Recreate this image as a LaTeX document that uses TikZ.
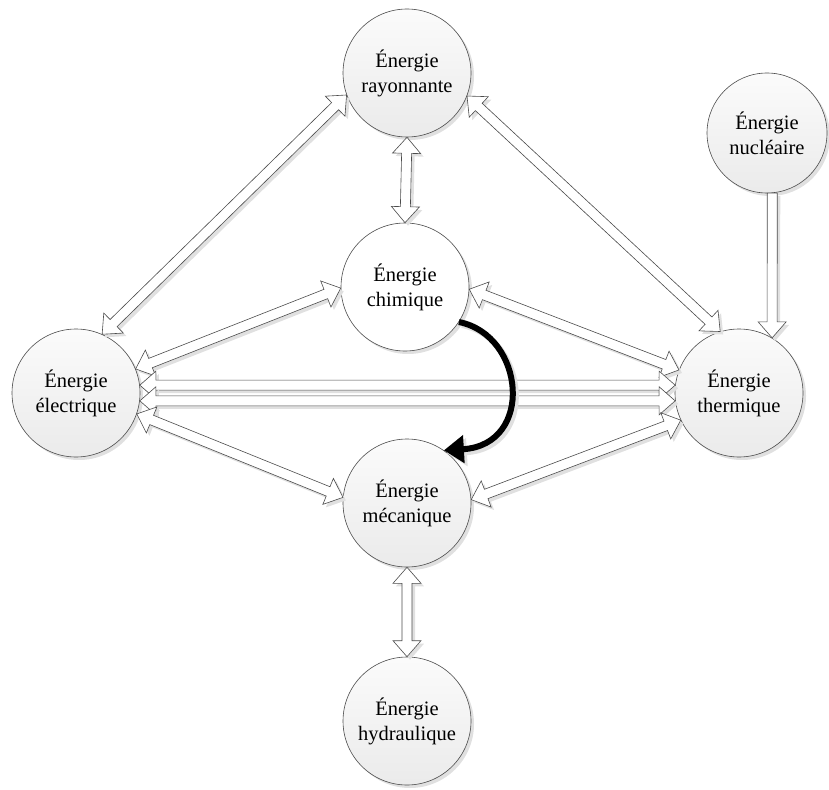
\documentclass[tikz,border=0pt]{standalone}
\usepackage{fontspec}
\setmainfont{Liberation Serif}
\usetikzlibrary{calc,shadows,arrows.meta}
\tikzset{
  enode/.style={circle, minimum size=128pt, inner sep=0pt, align=center,
    draw=black!70, line width=0.6pt, top color=gray!3, bottom color=gray!16,
    font=\fontsize{20.5pt}{25pt}\selectfont,
    drop shadow={shadow xshift=3pt, shadow yshift=-3pt, fill=black!12, opacity=1}},
  wnode/.style={enode, top color=white, bottom color=white},
  barrow/.style={draw=black!70, fill=white, line width=0.6pt, line join=miter,
    drop shadow={shadow xshift=3pt, shadow yshift=-3pt, fill=black!12, opacity=1}},
  curvearrow/.style={line width=6pt, -{Triangle[length=20pt,width=27pt]}},
}
\def\hlen{16pt}
\def\hwid{14pt}
\def\swid{5pt}
\newcommand\dblarrow[2]{%
  \path (#1) coordinate (P) (#2) coordinate (Q);
  \path ($(P)!\hlen!(Q)$) coordinate (P1) ($(Q)!\hlen!(P)$) coordinate (Q1);
  \draw[barrow] (P) -- ($(P1)!\hwid!90:(Q)$) -- ($(P1)!\swid!90:(Q)$)
    -- ($(Q1)!\swid!-90:(P)$) -- ($(Q1)!\hwid!-90:(P)$) -- (Q)
    -- ($(Q1)!\hwid!90:(P)$) -- ($(Q1)!\swid!90:(P)$)
    -- ($(P1)!\swid!-90:(Q)$) -- ($(P1)!\hwid!-90:(Q)$) -- cycle;}
\newcommand\sglarrow[2]{%
  \path (#1) coordinate (P) (#2) coordinate (Q);
  \path ($(Q)!\hlen!(P)$) coordinate (Q1);
  \draw[barrow] ($(P)!\swid!90:(Q)$)
    -- ($(Q1)!\swid!-90:(P)$) -- ($(Q1)!\hwid!-90:(P)$) -- (Q)
    -- ($(Q1)!\hwid!90:(P)$) -- ($(Q1)!\swid!90:(P)$)
    -- ($(P)!\swid!-90:(Q)$) -- cycle;}
\begin{document}
\begin{tikzpicture}[x=1pt, y=-1pt]
\useasboundingbox (0,0) rectangle (829,789);
\node[enode] (ray) at (407,73) {Énergie\\rayonnante};
\node[enode, minimum size=120pt] (nuc) at (767,133) {Énergie\\nucléaire};
\node[wnode] (chim) at (405,287) {Énergie\\chimique};
\node[enode] (elec) at (76,393) {Énergie\\électrique};
\node[enode] (therm) at (739,393) {Énergie\\thermique};
\node[enode] (mech) at (407,503) {Énergie\\mécanique};
\node[enode] (hyd) at (407,721) {Énergie\\hydraulique};

\dblarrow{ray.200}{elec.66}
\dblarrow{ray.-21}{therm.107}
\dblarrow{ray.270}{chim.90}
\sglarrow{nuc.-85}{therm.59}
\dblarrow{elec.22}{chim.181}
\dblarrow{chim.-2}{therm.159}
\dblarrow{elec.7}{therm.173}
\dblarrow{elec.-7}{therm.187}
\dblarrow{elec.-19}{mech.175}
\dblarrow{mech.3}{therm.205}
\dblarrow{mech.270}{hyd.90}

\draw[curvearrow, black!12, transform canvas={shift={(3pt,-3pt)}}]
  (chim.-33) .. controls (525,335) and (535,445) .. (mech.55);
\draw[curvearrow, black] (chim.-33) .. controls (525,335) and (535,445) .. (mech.55);
\end{tikzpicture}
\end{document}
